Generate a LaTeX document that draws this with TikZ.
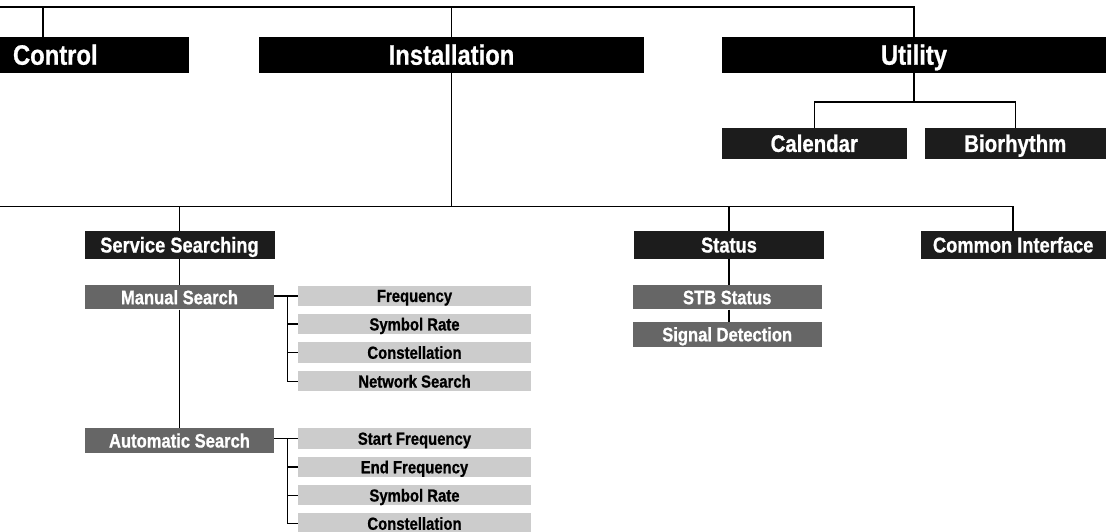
\documentclass[tikz,border=0pt]{standalone}
\usepackage{fontspec}
\newfontfamily\boxfont{Liberation Sans}[FakeStretch=0.85, BoldFeatures={FakeBold=0.8}]
\definecolor{boxblack}{HTML}{000000}
\definecolor{boxdark}{HTML}{1C1C1C}
\definecolor{boxgrey}{HTML}{666666}
\definecolor{leafgrey}{HTML}{CCCCCC}
\begin{document}
\begin{tikzpicture}[x=1pt, y=-1pt,
  box/.style={inner sep=0pt, text=white, align=center, text depth=0pt},
  topbox/.style={box, fill=boxblack, minimum height=36pt, text height=20pt, font=\boxfont\bfseries\fontsize{28}{30}\selectfont},
  utilbox/.style={box, fill=boxdark, minimum height=30.7pt, text height=17.2pt, font=\boxfont\bfseries\fontsize{24}{26}\selectfont},
  midbox/.style={box, fill=boxdark, minimum width=190pt, minimum height=27.7pt, text height=15.4pt, font=\boxfont\bfseries\fontsize{21.5}{23}\selectfont},
  subbox/.style={box, fill=boxgrey, minimum width=189pt, minimum height=24.5pt, text height=14pt, font=\boxfont\bfseries\fontsize{19.5}{21}\selectfont},
  leaf/.style={box, fill=leafgrey, text=black, minimum width=232.4pt, minimum height=20.3pt, text height=12.5pt, font=\boxfont\bfseries\fontsize{17.5}{19}\selectfont},
  link/.style={draw=black, line width=1.6pt}]
\useasboundingbox (0,0) rectangle (1106,531);

% first row
\node[topbox, text width=163pt, inner xsep=13pt, align=left] at (94.5,54.7) (ctrl) {Control};
\node[topbox, minimum width=385pt] at (451.5,54.7) (inst) {Installation};
\node[topbox, minimum width=384pt] at (914,54.7) (util) {Utility};

\node[utilbox, minimum width=184.7pt] at (814.3,143.3) (cal) {Calendar};
\node[utilbox, minimum width=180.7pt] at (1015.3,143.3) (bio) {Biorhythm};

% second row
\node[midbox] at (179.5,244.8) (svc) {Service Searching};
\node[midbox] at (729,244.8) (stat) {Status};
\node[midbox, minimum width=185pt] at (1013.2,244.8) (ci) {Common Interface};

\node[subbox] at (179.5,297.2) (man) {Manual Search};
\node[subbox] at (179.5,440.5) (auto) {Automatic Search};
\node[subbox] at (727.2,297.2) (stb) {STB Status};
\node[subbox] at (727.2,334.3) (sig) {Signal Detection};

\node[leaf] at (414.5,295.7) (mf1) {Frequency};
\node[leaf] at (414.5,324.2) (mf2) {Symbol Rate};
\node[leaf] at (414.5,352.5) (mf3) {Constellation};
\node[leaf] at (414.5,381.3) (mf4) {Network Search};

\node[leaf] at (414.5,438.5) (af1) {Start Frequency};
\node[leaf] at (414.5,467) (af2) {End Frequency};
\node[leaf] at (414.5,495.3) (af3) {Symbol Rate};
\node[leaf] at (414.5,523.5) (af4) {Constellation};

% connectors
\coordinate (top0) at (0,7);
\coordinate (cv) at (42.7,7);
\coordinate (ujoin) at (914,101.7);
\coordinate (mid0) at (0,206.5);
\coordinate (br) at (287.3,0);

\draw[link] (top0) -| (util.north);
\draw[link] (cv) -- (cv |- ctrl.north); \draw[link] (inst.north) -- (inst.north |- top0);
\draw[link] (util.south) -- (ujoin); \draw[link] (cal.north) |- (ujoin) -| (bio.north);
\draw[link] (inst.south) -- (inst.south |- mid0); \draw[link] (mid0) -| (ci.north);
\draw[link] (svc.north) -- (svc.north |- mid0); \draw[link] (stat.north) -- (stat.north |- mid0);
\draw[link] (svc.south) -- (man.north); \draw[link] (man.south) -- (auto.north);
\draw[link] (stat.south) -- (stat.south |- stb.north); \draw[link] (stb.south -| stat.south) -- (stat.south |- sig.north);

\draw[link] (man.east |- mf1.west) -- (mf1.west);
\draw[link] (br |- mf1.west) |- (mf4.west);
\draw[link] (br |- mf2.west) -- (mf2.west); \draw[link] (br |- mf3.west) -- (mf3.west);

\draw[link] (auto.east |- af1.west) -- (af1.west);
\draw[link] (br |- af1.west) |- (af4.west);
\draw[link] (br |- af2.west) -- (af2.west); \draw[link] (br |- af3.west) -- (af3.west);
\end{tikzpicture}
\end{document}
